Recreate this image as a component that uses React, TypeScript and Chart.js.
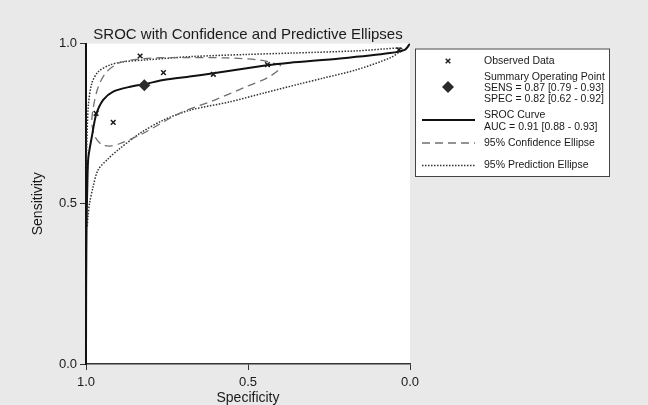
import React, { useEffect, useRef } from 'react';
import { Chart, registerables } from 'chart.js';

Chart.register(...registerables);

// ---- data ----
const observedSpec = [0.833, 0.761, 0.607, 0.44, 0.969, 0.916, 0.034];
const observedSens = [0.961, 0.909, 0.904, 0.934, 0.782, 0.754, 0.98];

const summarySpec = [0.82];
const summarySens = [0.87];

const srocSpec = [1.0, 0.9995, 0.998, 0.996, 0.993, 0.982, 0.969, 0.947, 0.916, 0.864, 0.816, 0.761, 0.68, 0.607, 0.442, 0.37, 0.216, 0.062, 0.015, 0.0];
const srocSens = [0.0, 0.25, 0.45, 0.55, 0.642, 0.709, 0.777, 0.824, 0.85, 0.865, 0.874, 0.886, 0.897, 0.907, 0.932, 0.94, 0.953, 0.97, 0.981, 1.0];

const confSpec = [0.399, 0.463, 0.566, 0.72, 0.823, 0.895, 0.936, 0.962, 0.977, 0.982, 0.972, 0.952, 0.926, 0.895, 0.823, 0.71, 0.607, 0.504, 0.442, 0.406, 0.399];
const confSens = [0.933, 0.948, 0.955, 0.956, 0.953, 0.94, 0.912, 0.865, 0.803, 0.751, 0.709, 0.685, 0.68, 0.688, 0.72, 0.783, 0.822, 0.866, 0.892, 0.917, 0.933];

const predSpec = [0.996, 0.994, 0.989, 0.978, 0.963, 0.932, 0.901, 0.833, 0.761, 0.679, 0.556, 0.453, 0.34, 0.268, 0.165, 0.062, 0.031, 0.025, 0.031, 0.165, 0.37, 0.5, 0.679, 0.813, 0.885, 0.926, 0.962, 0.982, 0.993, 0.998, 1.0];
const predSens = [0.43, 0.46, 0.502, 0.553, 0.605, 0.64, 0.668, 0.72, 0.761, 0.792, 0.818, 0.845, 0.874, 0.892, 0.918, 0.955, 0.975, 0.982, 0.986, 0.977, 0.97, 0.966, 0.959, 0.949, 0.943, 0.933, 0.912, 0.876, 0.803, 0.668, 0.6];

const axisTickValues = [0, 0.5, 1];
const titleText = 'SROC with Confidence and Predictive Ellipses';
const xTitle = 'Specificity';
const yTitle = 'Sensitivity';
const legendObserved = 'Observed Data';
const legendSummary = ['Summary Operating Point', 'SENS = 0.87 [0.79 - 0.93]', 'SPEC = 0.82 [0.62 - 0.92]'];
const legendSroc = ['SROC Curve', 'AUC = 0.91 [0.88 - 0.93]'];
const legendConf = '95% Confidence Ellipse';
const legendPred = '95% Prediction Ellipse';

const FONT = "'Liberation Sans', Arial, Helvetica, sans-serif";
const DOT = [1.5, 1.5];
const DASH = [8, 5];

const toPts = (xs: number[], ys: number[]) => xs.map((x, i) => ({ x, y: ys[i] }));

const decorPlugin = {
  id: 'decor',
  beforeDraw(chart: any) {
    const { ctx, chartArea: a } = chart;
    ctx.save();
    ctx.fillStyle = '#ffffff';
    ctx.fillRect(a.left, a.top, a.right - a.left, a.bottom - a.top);
    ctx.restore();
  },
  afterDraw(chart: any) {
    const { ctx, chartArea: a } = chart;
    ctx.save();
    // title
    ctx.fillStyle = '#1a1a1a';
    ctx.font = `15px ${FONT}`;
    ctx.textAlign = 'center';
    ctx.textBaseline = 'alphabetic';
    ctx.fillText(titleText, (a.left + a.right) / 2, 38.5);

    // legend box
    const bx = 415, by = 48.5, bw = 194, bh = 127.5;
    ctx.fillStyle = '#ffffff';
    ctx.fillRect(bx, by, bw, bh);
    ctx.strokeStyle = '#444';
    ctx.lineWidth = 1;
    ctx.strokeRect(bx + 0.5, by + 0.5, bw, bh);

    const tx = 484;
    const sx = 448;
    const lx0 = 422, lx1 = 475;
    ctx.font = `10.5px ${FONT}`;
    ctx.textAlign = 'left';
    ctx.textBaseline = 'middle';
    ctx.fillStyle = '#1a1a1a';
    ctx.fillText(legendObserved, tx, 61);
    ctx.fillText(legendSummary[0], tx, 77.5);
    ctx.fillText(legendSummary[1], tx, 88.5);
    ctx.fillText(legendSummary[2], tx, 99.5);
    ctx.fillText(legendSroc[0], tx, 115.5);
    ctx.fillText(legendSroc[1], tx, 127);
    ctx.fillText(legendConf, tx, 143);
    ctx.fillText(legendPred, tx, 165.5);

    // symbols
    ctx.strokeStyle = '#1a1a1a';
    ctx.lineWidth = 1.4;
    const c = 2.3;
    ctx.beginPath();
    ctx.moveTo(sx - c, 61 - c); ctx.lineTo(sx + c, 61 + c);
    ctx.moveTo(sx + c, 61 - c); ctx.lineTo(sx - c, 61 + c);
    ctx.stroke();

    ctx.fillStyle = '#2a2a2a';
    const d = 6;
    ctx.beginPath();
    ctx.moveTo(sx, 87 - d); ctx.lineTo(sx + d, 87); ctx.lineTo(sx, 87 + d); ctx.lineTo(sx - d, 87);
    ctx.closePath();
    ctx.fill();

    ctx.lineWidth = 2;
    ctx.strokeStyle = '#111';
    ctx.beginPath(); ctx.moveTo(lx0, 120); ctx.lineTo(lx1, 120); ctx.stroke();

    ctx.lineWidth = 1.3;
    ctx.strokeStyle = '#707070';
    ctx.setLineDash(DASH);
    ctx.beginPath(); ctx.moveTo(lx0, 143); ctx.lineTo(lx1, 143); ctx.stroke();

    ctx.lineWidth = 1.5;
    ctx.strokeStyle = '#333';
    ctx.setLineDash(DOT);
    ctx.beginPath(); ctx.moveTo(lx0, 165.5); ctx.lineTo(lx1, 165.5); ctx.stroke();
    ctx.setLineDash([]);
    ctx.restore();
  },
};

export default function App() {
  const ref = useRef<HTMLCanvasElement | null>(null);

  useEffect(() => {
    document.body.style.margin = '0';
    const canvas = ref.current;
    if (!canvas) return;

    const tickCb = (v: any) => Number(v).toFixed(1);

    const chart = new Chart(canvas, {
      type: 'scatter',
      data: {
        datasets: [
          {
            label: 'Observed Data',
            data: toPts(observedSpec, observedSens),
            pointStyle: 'crossRot',
            pointRadius: 3.3,
            pointBorderWidth: 1.5,
            borderColor: '#1a1a1a',
            backgroundColor: '#1a1a1a',
            showLine: false,
          },
          {
            label: 'Summary Operating Point',
            data: toPts(summarySpec, summarySens),
            pointStyle: 'rectRot',
            pointRadius: 6,
            pointBorderWidth: 0,
            borderColor: '#2a2a2a',
            backgroundColor: '#2a2a2a',
            showLine: false,
          },
          {
            label: 'SROC Curve',
            data: toPts(srocSpec, srocSens),
            showLine: true,
            pointRadius: 0,
            borderColor: '#111',
            borderWidth: 2,
            tension: 0.25,
            fill: false,
          },
          {
            label: '95% Confidence Ellipse',
            data: toPts(confSpec, confSens),
            showLine: true,
            pointRadius: 0,
            borderColor: '#707070',
            borderWidth: 1.3,
            borderDash: DASH,
            tension: 0.3,
            fill: false,
          },
          {
            label: '95% Prediction Ellipse',
            data: toPts(predSpec, predSens),
            showLine: true,
            pointRadius: 0,
            borderColor: '#333',
            borderWidth: 1.5,
            borderDash: DOT,
            tension: 0.3,
            fill: false,
          },
        ],
      },
      options: {
        responsive: false,
        animation: false,
        events: [],
        layout: { padding: { left: 0, right: 238, top: 43.5, bottom: 0 } },
        plugins: {
          legend: { display: false },
          title: { display: false },
          tooltip: { enabled: false },
        },
        scales: {
          x: {
            type: 'linear',
            min: 0,
            max: 1,
            reverse: true,
            afterBuildTicks: (s: any) => { s.ticks = axisTickValues.map((v) => ({ value: v })); },
            afterFit: (s: any) => { s.height = 41; },
            ticks: { callback: tickCb, color: '#1a1a1a', font: { size: 13, family: FONT }, padding: 5, maxRotation: 0 },
            grid: { drawOnChartArea: false, drawTicks: true, tickLength: 6, tickColor: '#333', tickWidth: 1 },
            border: { display: true, color: '#333', width: 1.5 },
            title: { display: true, text: xTitle, color: '#1a1a1a', font: { size: 14, family: FONT, lineHeight: 1 }, padding: { top: 0, bottom: 0 } },
          },
          y: {
            type: 'linear',
            min: 0,
            max: 1,
            afterBuildTicks: (s: any) => { s.ticks = axisTickValues.map((v) => ({ value: v })); },
            afterFit: (s: any) => { s.width = 86; },
            ticks: { callback: tickCb, color: '#1a1a1a', font: { size: 13, family: FONT }, padding: 3 },
            grid: { drawOnChartArea: false, drawTicks: true, tickLength: 6, tickColor: '#333', tickWidth: 1 },
            border: { display: true, color: '#111', width: 2 },
            title: { display: true, text: yTitle, color: '#1a1a1a', font: { size: 14, family: FONT, lineHeight: 1 }, padding: { top: 31.5, bottom: 0 } },
          },
        },
      } as any,
      plugins: [decorPlugin],
    });

    return () => chart.destroy();
  }, []);

  return (
    <div style={{ width: 648, height: 405, background: '#e9e9e9', position: 'relative' }}>
      <canvas ref={ref} width={648} height={405} style={{ display: 'block' }} />
    </div>
  );
}
